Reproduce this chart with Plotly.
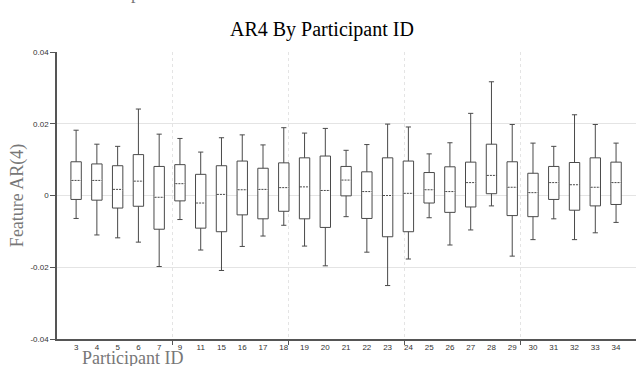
import plotly.graph_objects as go

participant_ids = ["3", "4", "5", "6", "7", "9", "11", "15", "16", "17", "18", "19", "20", "21",
                   "22", "23", "24", "25", "26", "27", "28", "29", "30", "31", "32", "33", "34"]
upper_whisker = [0.0182, 0.0143, 0.0137, 0.0241, 0.0171, 0.0159, 0.0121, 0.0161, 0.0169, 0.0141,
                 0.0189, 0.0174, 0.0187, 0.0126, 0.0142, 0.0199, 0.0191, 0.0116, 0.0147, 0.0229,
                 0.0317, 0.0198, 0.0146, 0.0137, 0.0225, 0.0198, 0.0146]
q3_values = [0.0094, 0.0088, 0.0083, 0.0114, 0.0081, 0.0086, 0.0059, 0.0083, 0.0096, 0.0076,
             0.0091, 0.0105, 0.0110, 0.0081, 0.0066, 0.0105, 0.0096, 0.0064, 0.0080, 0.0093,
             0.0143, 0.0094, 0.0062, 0.0081, 0.0092, 0.0105, 0.0093]
median_values = [0.0042, 0.0042, 0.0017, 0.0040, -0.0005, 0.0033, -0.0021, 0.0003, 0.0016, 0.0017,
                 0.0022, 0.0024, 0.0014, 0.0043, 0.0011, 0.0000, 0.0006, 0.0016, 0.0011, 0.0036,
                 0.0056, 0.0023, 0.0008, 0.0036, 0.0030, 0.0023, 0.0036]
q1_values = [-0.0011, -0.0013, -0.0035, -0.0030, -0.0094, -0.0015, -0.0091, -0.0101, -0.0054, -0.0065,
             -0.0044, -0.0065, -0.0089, -0.0001, -0.0064, -0.0115, -0.0101, -0.0021, -0.0047, -0.0032,
             0.0005, -0.0056, -0.0059, -0.0011, -0.0041, -0.0029, -0.0025]
lower_whisker = [-0.0064, -0.0110, -0.0118, -0.0130, -0.0198, -0.0067, -0.0152, -0.0209, -0.0142, -0.0113,
                 -0.0083, -0.0141, -0.0196, -0.0059, -0.0158, -0.0251, -0.0177, -0.0062, -0.0138, -0.0096,
                 -0.0029, -0.0169, -0.0123, -0.0065, -0.0123, -0.0104, -0.0075]
y_tick_vals = [-0.04, -0.02, 0, 0.02, 0.04]
y_tick_text = ["-0.04", "-0.02", "0", "0.02", "0.04"]

positions = list(range(len(participant_ids)))
box_width = 0.5
x_lo, x_hi = -0.92, len(participant_ids) - 1 + 0.96
grid_vals = [x_lo + k * (x_hi - x_lo) / 5 for k in range(1, 5)]

LINE = "#4a4a4a"
SERIF = "Liberation Serif, Times New Roman, serif"
SANS = "Liberation Sans, Arial, sans-serif"

fig = go.Figure()
fig.add_trace(go.Box(
    x=positions, q1=q1_values, median=median_values, q3=q3_values,
    lowerfence=lower_whisker, upperfence=upper_whisker,
    width=box_width, whiskerwidth=0.5,
    fillcolor="white", line=dict(color=LINE, width=1),
    boxpoints=False, showlegend=False, hoverinfo="skip",
))

# dashed medians: blank out solid median, then draw dashed one
mx, my = [], []
half = box_width / 2 - 0.03
for p, m in zip(positions, median_values):
    mx += [p - half, p + half, None]
    my += [m, m, None]
fig.add_trace(go.Scatter(x=mx, y=my, mode="lines", line=dict(color="white", width=2.5),
                         showlegend=False, hoverinfo="skip"))
fig.add_trace(go.Scatter(x=mx, y=my, mode="lines", line=dict(color=LINE, width=1, dash="2px,1px"),
                         showlegend=False, hoverinfo="skip"))

fig.update_layout(
    width=636, height=366,
    margin=dict(l=57, r=0, t=52, b=27),
    paper_bgcolor="white", plot_bgcolor="white",
    xaxis=dict(
        range=[x_lo, x_hi], tickvals=positions, ticktext=participant_ids,
        showgrid=False, zeroline=False, ticks="",
        showline=True, linecolor="#555", linewidth=1.5,
        tickfont=dict(family=SANS, size=8, color="#333"),
        minor=dict(tickvals=grid_vals, showgrid=True, gridcolor="#e4e4e4", griddash="dot",
                   gridwidth=1, ticks="outside", ticklen=4, tickcolor="#555"),
    ),
    yaxis=dict(
        range=[-0.04, 0.04], tickvals=y_tick_vals, ticktext=y_tick_text,
        showgrid=True, gridcolor="#e4e4e4", zeroline=False,
        showline=True, linecolor="#555", linewidth=1.5,
        ticks="outside", ticklen=5, tickcolor="#555",
        tickfont=dict(family=SANS, size=8, color="#333"),
    ),
    annotations=[
        dict(text="AR4 By Participant ID", xref="paper", yref="paper", x=0.458, y=1.08,
             xanchor="center", yanchor="middle", showarrow=False,
             font=dict(family=SERIF, size=20, color="black")),
        dict(text="Feature AR(4)", xref="paper", yref="paper", x=-0.068, y=0.5,
             xanchor="center", yanchor="middle", textangle=-90, showarrow=False,
             font=dict(family=SERIF, size=18, color="#777")),
        dict(text="Participant ID", xref="paper", yref="paper", x=0.040, y=-0.066,
             xanchor="left", yanchor="middle", showarrow=False,
             font=dict(family=SERIF, size=18, color="#777")),
        dict(text="Participant ID", xref="paper", yref="paper", x=0.043, y=1.205,
             xanchor="left", yanchor="middle", showarrow=False,
             font=dict(family=SERIF, size=18, color="#777")),
    ],
)

fig.write_html("out.html", config={"displayModeBar": False},
               post_script="document.body.style.margin='0';document.body.style.overflow='hidden';")
